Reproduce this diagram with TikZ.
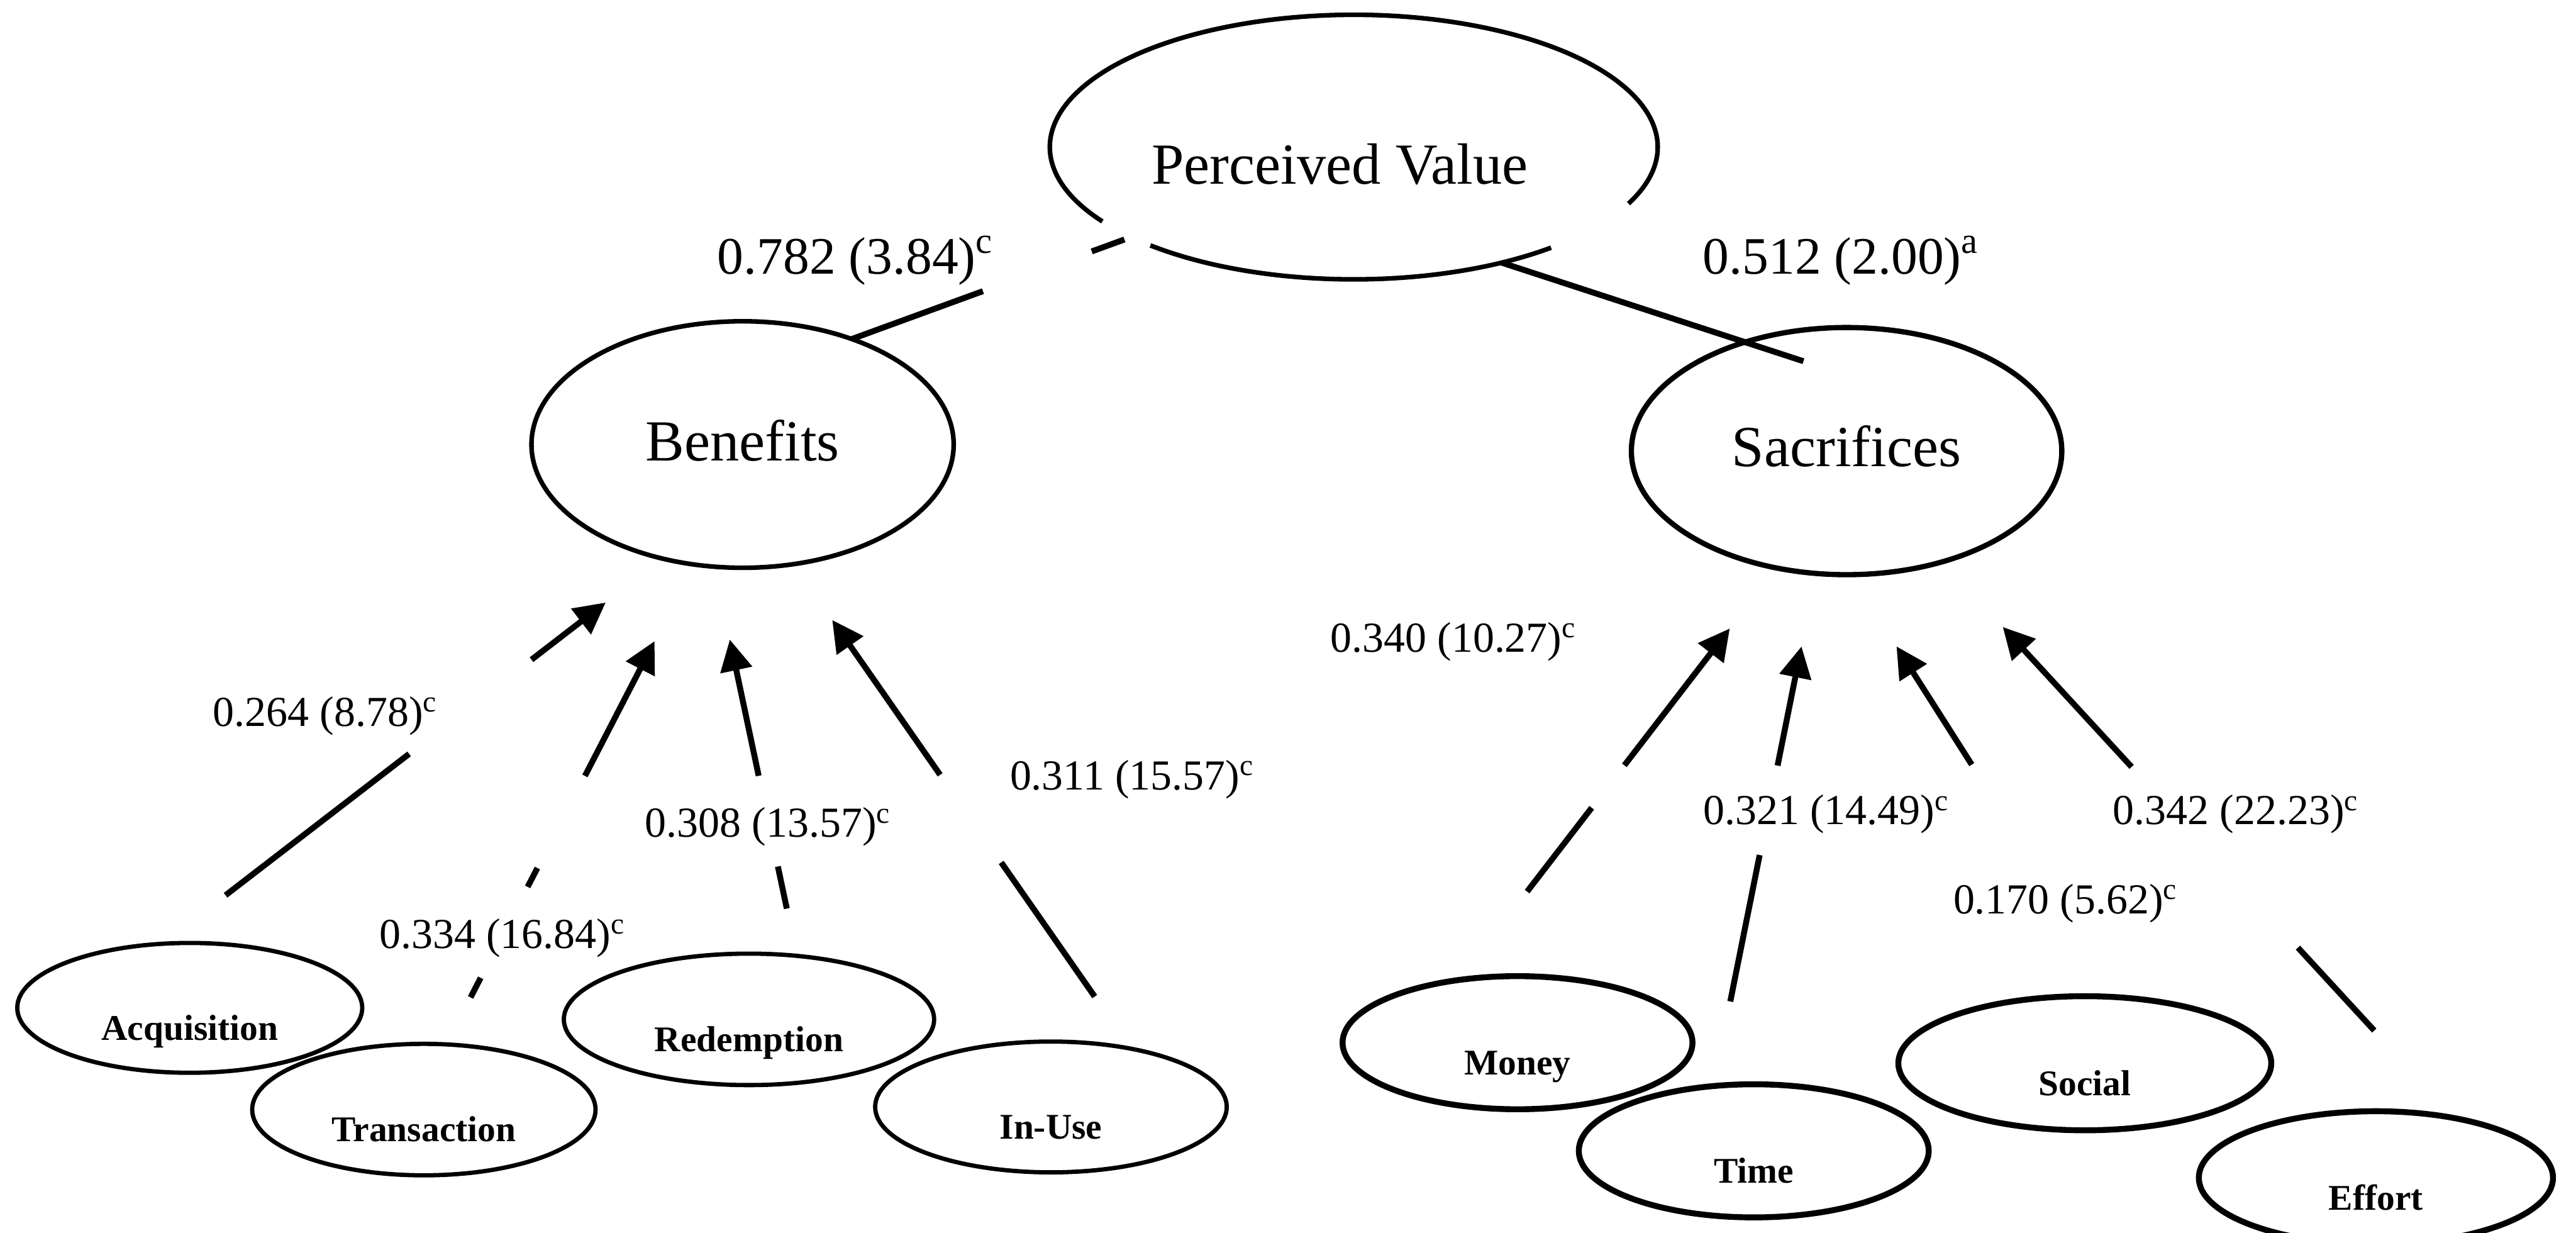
\documentclass[tikz,border=0pt]{standalone}
\usepackage{fontspec}
\setmainfont{Liberation Serif}
\usetikzlibrary{arrows.meta,calc,shapes.geometric}

\begin{document}
\begin{tikzpicture}[x=0.5pt,y=-0.5pt,
  construct/.style={ellipse, draw, line width=1.4pt, inner sep=0pt, outer sep=0pt,
    text depth=0pt, font=\fontsize{17.7pt}{20pt}\selectfont},
  facet/.style={ellipse, draw, line width=1.3pt, inner sep=0pt, outer sep=0pt,
    text height=19.5pt, text depth=0pt, font=\fontsize{11pt}{13pt}\selectfont\bfseries},
  facetR/.style={facet, line width=1.8pt},
  coef/.style={anchor=base west, inner sep=0pt, font=\fontsize{13pt}{15pt}\selectfont},
  topcoef/.style={anchor=base west, inner sep=0pt, font=\fontsize{16pt}{18pt}\selectfont},
  link/.style={line width=1.8pt},
  load/.style={link, -{Triangle[length=9.5pt,width=9.5pt]}},
]
\useasboundingbox (0,0) rectangle (1568,750);
\clip (0,0) rectangle (1568,750);
\fill[white] (0,0) rectangle (1568,750);

% second-order construct and its two dimensions
\node[construct, draw=none, minimum width=185pt, minimum height=80.5pt, text height=22.4pt]
  (pv) at (824,89.5) {Perceived Value\kern8.4pt};
\draw[line width=1.4pt] ([shift={(228:92.5pt and 40.25pt)}]pv.center)
  arc[start angle=228, end angle=310.5, x radius=92.5pt, y radius=40.25pt];
\draw[line width=1.4pt] ([shift={(334.7:92.5pt and 40.25pt)}]pv.center)
  arc[start angle=334.7, end angle=574.2, x radius=92.5pt, y radius=40.25pt];

\node[construct, minimum width=128.5pt, minimum height=75pt, text height=9.8pt]
  (ben) at (452,270.5) {Benefits};
\node[construct, line width=1.6pt, minimum width=131pt, minimum height=75.2pt, text height=9.4pt]
  (sac) at (1124,274.5) {Sacrifices};

% benefit facets
\node[facet, minimum width=105pt, minimum height=39.5pt] (acq) at (115.5,613.3) {Acquisition};
\node[facet, minimum width=104.5pt, minimum height=40pt] (tra) at (258,675.2) {Transaction};
\node[facet, minimum width=112.7pt, minimum height=40pt] (red) at (455.9,620.3) {Redemption};
\node[facet, minimum width=107pt, minimum height=39.8pt] (inu) at (639.7,673.6) {In-Use};

% sacrifice facets
\node[facetR, minimum width=106.5pt, minimum height=40.5pt] (mon) at (923.7,634.5) {Money};
\node[facetR, minimum width=106.5pt, minimum height=40.5pt] (tim) at (1067.5,700.3) {Time};
\node[facetR, minimum width=113.5pt, minimum height=40.8pt] (soc) at (1269,647) {Social};
\node[facetR, minimum width=107.8pt, minimum height=40.5pt] (eff) at (1446.2,716.7) {Effort};

% paths to perceived value
\draw[link, dash pattern=on 42.5pt off 35.25pt on 10.6pt off 60pt] (ben.44.8) -- (pv.202.8);
\draw[link, shorten >=-18.7pt] (pv.322.4) -- (sac.133.1);

% facet loadings on benefits
\draw[load, shorten <=24.2pt, shorten >=21.9pt, dash pattern=on 70.5pt off 47pt on 400pt]
  (acq.113.7) -- (ben.235.8);
\draw[load, shorten <=16.1pt, shorten >=26.25pt,
  dash pattern=on 6.7pt off 31.15pt on 6.45pt off 31.55pt on 400pt]
  (tra.71.1) -- (ben.248.7);
\draw[load, shorten <=14.7pt, shorten >=22.65pt, dash pattern=on 13.1pt off 28.2pt on 400pt]
  (red.53.25) -- (ben.257.95);
\draw[load, shorten <=19.35pt, shorten >=20.7pt, dash pattern=on 49.75pt off 32.5pt on 400pt]
  (inu.36.4) -- (ben.293.9);

% facet loadings on sacrifices
\draw[load, shorten <=33.95pt, shorten >=23.25pt, dash pattern=on 32.2pt off 16.3pt on 400pt]
  (mon.133.5) -- (sac.239.8);
\draw[load, shorten <=26.25pt, shorten >=22.65pt, dash pattern=on 45.45pt off 27.75pt on 400pt]
  (tim.122.6) -- (sac.256.9);
\draw[load, shorten <=83.95pt, shorten >=25.85pt] (soc.62.4) -- (sac.272.1);
\draw[load, shorten <=36.25pt, shorten >=27pt, dash pattern=on 34.3pt off 74.75pt on 400pt]
  (eff.37.4) -- (sac.311.3);

% coefficients (t-values)
\node[topcoef] (kben) at (436.3,166.6) {0.782 (3.84)\textsuperscript{c}};
\node[topcoef] (ksac) at (1036.2,166.6) {0.512 (2.00)\textsuperscript{a}};
\node[coef] (kacq) at (129.3,442) {0.264 (8.78)\textsuperscript{c}};
\node[coef] (ktra) at (230.6,577) {0.334 (16.84)\textsuperscript{c}};
\node[coef] (kred) at (392.3,509.5) {0.308 (13.57)\textsuperscript{c}};
\node[coef] (kinu) at (614.4,480.7) {0.311 (15.57)\textsuperscript{c}};
\node[coef] (kmon) at (809.5,396.7) {0.340 (10.27)\textsuperscript{c}};
\node[coef] (ktim) at (1036.4,501.8) {0.321 (14.49)\textsuperscript{c}};
\node[coef] (keff) at (1285.8,501.8) {0.342 (22.23)\textsuperscript{c}};
\node[coef] (ksoc) at (1188.6,556.1) {0.170 (5.62)\textsuperscript{c}};
\end{tikzpicture}
\end{document}
